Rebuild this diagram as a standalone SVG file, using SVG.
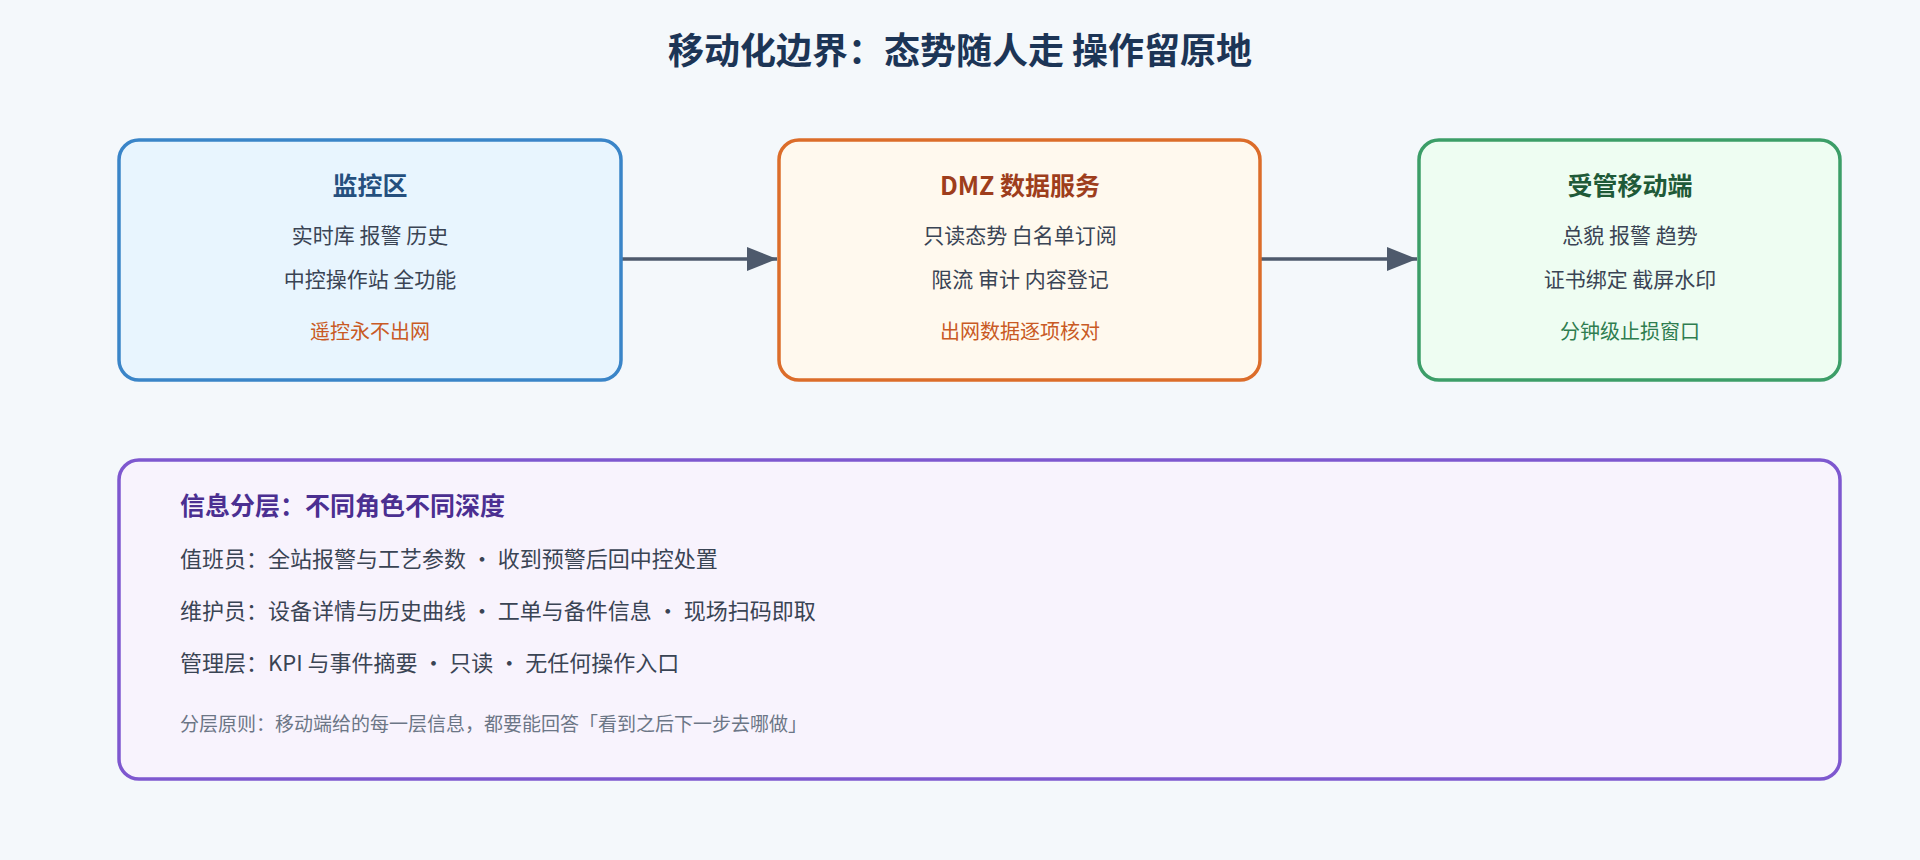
<svg xmlns="http://www.w3.org/2000/svg" width="1920" height="860" viewBox="0 0 1920 860">
<defs>
<style>
text{font-family:"Noto Sans CJK SC","Noto Sans",sans-serif;}
.t{font-size:25px;font-weight:bold;text-anchor:middle}
.b{font-size:21px;fill:#3a4454;text-anchor:middle}
.n{font-size:20px;text-anchor:middle}
.box{stroke-width:3.5}
.l{font-size:22px;fill:#3a4454}
</style>
<marker id="ah" markerWidth="12" markerHeight="12" refX="10" refY="6" orient="auto" markerUnits="userSpaceOnUse"><path d="M0,0 L34,6 L0,12 Z" fill="#4e5a6c" transform="scale(0.3,1)"/></marker>
<marker id="a2" viewBox="0 0 10 10" markerWidth="30" markerHeight="24" refX="10" refY="5" orient="auto" markerUnits="userSpaceOnUse" preserveAspectRatio="none"><path d="M0,0 L10,5 L0,10 Z" fill="#4e5a6c"/></marker>
</defs>
<rect width="1920" height="860" fill="#f4f8fb"/>
<text x="960" y="64" font-size="36" font-weight="bold" fill="#1c3556" text-anchor="middle">移动化边界：态势随人走 操作留原地</text>
<g id="connectors" stroke="#4e5a6c" stroke-width="3.5">
<line x1="621" y1="259" x2="777" y2="259" marker-end="url(#a2)"/>
<line x1="1260" y1="259" x2="1417" y2="259" marker-end="url(#a2)"/>
</g>
<g id="node-monitor">
<rect class="box" x="119" y="140" width="502" height="240" rx="20" fill="#e8f5fe" stroke="#3a85c8"/>
<text class="t" x="370" y="195" fill="#25507e">监控区</text>
<text class="b" x="370" y="243">实时库 报警 历史</text>
<text class="b" x="370" y="287">中控操作站 全功能</text>
<text class="n" x="370" y="339" fill="#c95a24">遥控永不出网</text>
</g>
<g id="node-dmz">
<rect class="box" x="779" y="140" width="481" height="240" rx="20" fill="#fff9ee" stroke="#dc6d2a"/>
<text class="t" x="1020" y="195" fill="#9e3e1c">DMZ 数据服务</text>
<text class="b" x="1020" y="243">只读态势 白名单订阅</text>
<text class="b" x="1020" y="287">限流 审计 内容登记</text>
<text class="n" x="1020" y="339" fill="#c95a24">出网数据逐项核对</text>
</g>
<g id="node-mobile">
<rect class="box" x="1419" y="140" width="421" height="240" rx="20" fill="#eefdf2" stroke="#3c9e68"/>
<text class="t" x="1630" y="195" fill="#1f5a38">受管移动端</text>
<text class="b" x="1630" y="243">总貌 报警 趋势</text>
<text class="b" x="1630" y="287">证书绑定 截屏水印</text>
<text class="n" x="1630" y="339" fill="#2f7d50">分钟级止损窗口</text>
</g>
<g id="node-layers">
<rect class="box" x="119" y="460" width="1721" height="319" rx="20" fill="#f8f3fd" stroke="#7e58cf"/>
<text x="180" y="515" font-size="25" font-weight="bold" fill="#4b2f91">信息分层：不同角色不同深度</text>
<text class="l" x="180" y="567">值班员：全站报警与工艺参数 · 收到预警后回中控处置</text>
<text class="l" x="180" y="619">维护员：设备详情与历史曲线 · 工单与备件信息 · 现场扫码即取</text>
<text class="l" x="180" y="671">管理层：KPI 与事件摘要 · 只读 · 无任何操作入口</text>
<text x="180" y="731" font-size="19" fill="#6c7686">分层原则：移动端给的每一层信息，都要能回答「看到之后下一步去哪做」</text>
</g>
</svg>
